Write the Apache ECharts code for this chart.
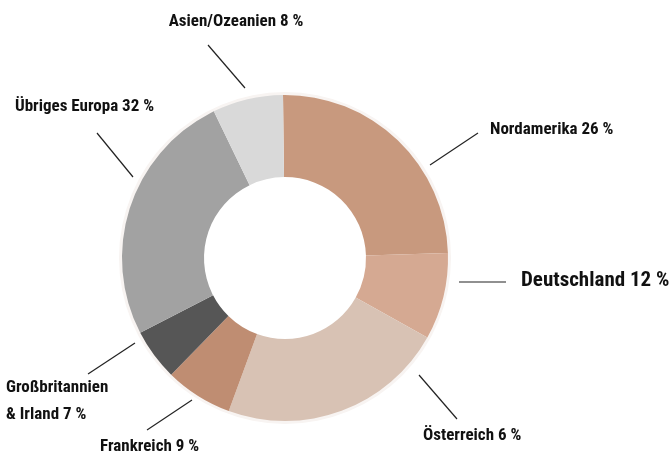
<!DOCTYPE html>
<html>
<head>
<meta charset="utf-8">
<script src="https://cdn.jsdelivr.net/npm/echarts@6/dist/echarts.min.js"></script>
<style>
html,body{margin:0;padding:0;background:#fff;}
#chart{width:672px;height:459px;}
</style>
</head>
<body>
<div id="chart"></div>
<script>
// Categories in clockwise order from 12 o'clock
var categories = ['Nordamerika', 'Deutschland', 'Österreich', 'Frankreich', 'Großbritannien & Irland', 'Übriges Europa', 'Asien/Ozeanien'];
// Slice sizes (share of the ring, %)
var values = [24.7, 8.6, 22.5, 6.7, 5.1, 25.4, 7.0];
// Label texts as printed on the chart
var labelTexts = ['Nordamerika 26 %', 'Deutschland 12 %', 'Österreich 6 %', 'Frankreich 9 %', 'Großbritannien\n& Irland 7 %', 'Übriges Europa 32 %', 'Asien/Ozeanien 8 %'];
var colors = ['#c8997e', '#d5a992', '#d8c2b4', '#bf8d72', '#565656', '#a2a2a2', '#d9d9d9'];

// label layout (anchor + leader line endpoints)
var labelLayouts = [
  {x: 490, y: 130, align: 'left', line: [[430, 165], [478, 133]]},
  {x: 521, y: 281, align: 'left', line: [[459, 282], [506, 282]]},
  {x: 423, y: 436, align: 'left', line: [[419, 375], [457, 419]]},
  {x: 100, y: 447, align: 'left', line: [[192, 400], [147, 430]]},
  {x: 6, y: 401, align: 'left', line: [[135, 343], [88, 374]]},
  {x: 15, y: 107, align: 'left', line: [[133, 177], [97, 133]]},
  {x: 236, y: 22, align: 'center', line: [[245, 88], [208, 45]]}
];

var fontFam = "'Roboto Condensed', 'Liberation Sans Narrow', 'DejaVu Sans Condensed', 'Roboto', sans-serif";

var data = categories.map(function (c, i) {
  return {
    name: c,
    value: values[i],
    itemStyle: {color: colors[i]},
    label: {
      formatter: labelTexts[i],
      fontSize: i === 1 ? 21 : 17,
      lineHeight: i === 4 ? 27 : undefined
    }
  };
});

var chart = echarts.init(document.getElementById('chart'), null, {renderer: 'canvas'});
chart.setOption({
  animation: false,
  backgroundColor: '#ffffff',
  series: [
    {
      type: 'pie',
      silent: true,
      center: [285, 258],
      radius: [160, 166],
      startAngle: 90,
      label: {show: false},
      labelLine: {show: false},
      itemStyle: {color: '#f8f4f2'},
      data: [{value: 1}],
      z: 1
    },
    {
      type: 'pie',
      center: [285, 258],
      radius: [81, 163],
      startAngle: 90.7,
      clockwise: true,
      avoidLabelOverlap: false,
      itemStyle: {borderWidth: 0},
      label: {
        show: true,
        color: '#111111',
        fontWeight: 'bold',
        fontFamily: fontFam
      },
      labelLine: {
        show: true,
        lineStyle: {color: '#222222', width: 1.2}
      },
      labelLayout: function (params) {
        var L = labelLayouts[params.dataIndex];
        return {
          x: L.x,
          y: L.y,
          align: L.align,
          verticalAlign: 'middle',
          labelLinePoints: L.line
        };
      },
      data: data,
      z: 2
    }
  ]
});
</script>
</body>
</html>
